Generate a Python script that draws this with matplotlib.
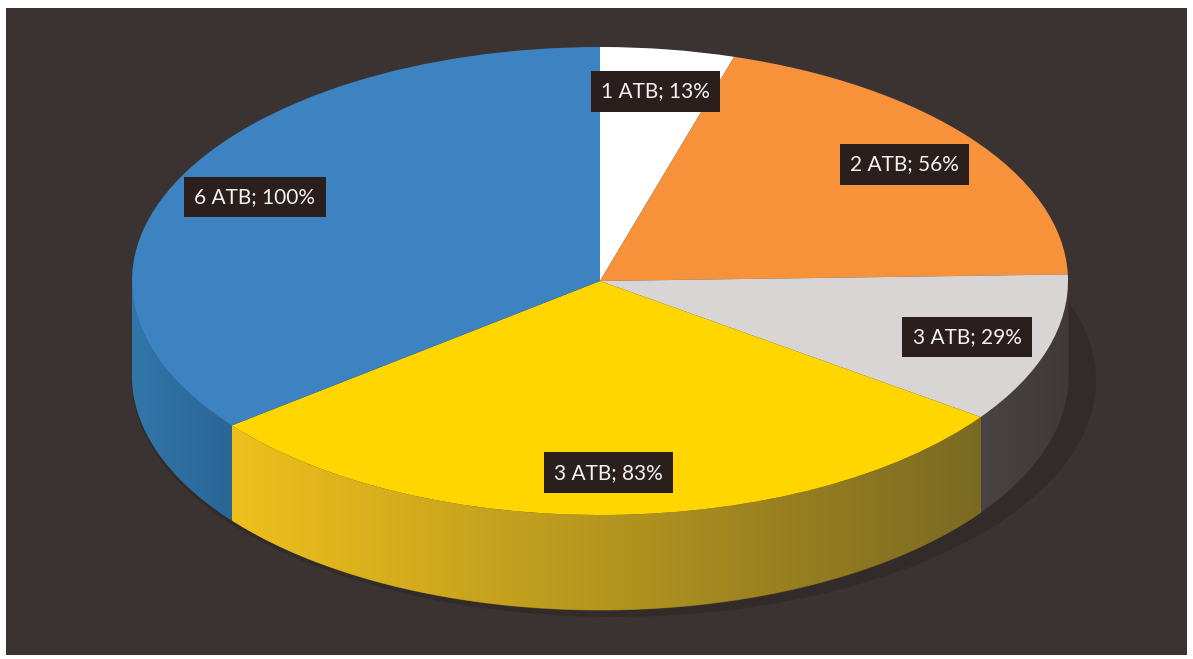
import numpy as np
import matplotlib.pyplot as plt
from matplotlib.colors import LinearSegmentedColormap
from matplotlib.patches import Ellipse

# --- data ---
categories = ['1 ATB', '2 ATB', '3 ATB', '3 ATB', '6 ATB']
values = [13, 56, 29, 83, 100]

# --- styles ---
top_colors = ['#ffffff', '#f7923a', '#d9d5d5', '#ffd600', '#3d82c1']
# side wall gradient (left end, right end) for each slice
wall_colors = [('#bdbdbd', '#bdbdbd'), ('#8a5226', '#8a5226'),
               ('#4a4343', '#403939'), ('#efc01c', '#7a6a22'),
               ('#3276aa', '#2a6696')]
bg_color = '#3b3332'

W, H = 1193, 659
fig = plt.figure(figsize=(W / 100, H / 100), dpi=100, facecolor='white')

# dark panel (pixels)
px0, px1, py0, py1 = 6, 1187, 8, 655
ax = fig.add_axes([px0 / W, 1 - py1 / H, (px1 - px0) / W, (py1 - py0) / H])

# pie geometry in pixels: centre, radii, thickness
cx, cy, rx, ry, depth = 600, 281, 468, 234, 95
d = depth / ry

label_text = [f'{c}; {v}%' for c, v in zip(categories, values)]
wedges, texts = ax.pie(values, colors=top_colors, startangle=90, counterclock=False,
                       labels=label_text, labeldistance=0.82,
                       wedgeprops=dict(linewidth=0, zorder=3),
                       textprops=dict(color='#f2f2f2', fontsize=15, family='Lato',
                                      zorder=5))
for t in texts:
    t.set_ha('center')
    t.set_va('center')
    t.set_bbox(dict(boxstyle='square,pad=0.5', facecolor='#2b1f1d', edgecolor='none'))

# soft shadow under the pie
ax.add_patch(Ellipse((0.03, -d - 0.02), 2.06, 2.02, facecolor='#2a2322', alpha=0.45,
                     linewidth=0, zorder=0.5))

# front side walls, gradient-filled
for w, wc in zip(wedges, wall_colors):
    for shift in (-360, 0, 360):
        a = max(w.theta1 + shift, -180)
        b = min(w.theta2 + shift, 0)
        if b <= a:
            continue
        tt = np.radians(np.linspace(a, b, 200))
        xs = np.cos(tt)
        poly = ax.fill_between(xs, np.sin(tt), np.sin(tt) - d, color=wc[1],
                               linewidth=0, zorder=1)
        cmap = LinearSegmentedColormap.from_list('wall', list(wc))
        grad = np.linspace(0, 1, 256).reshape(1, -1)
        ylo = np.sin(tt).min() - d
        yhi = np.sin(tt).max()
        im = ax.imshow(grad, cmap=cmap, aspect='auto', zorder=1.5,
                       extent=(xs.min(), xs.max(), ylo, yhi))
        im.set_clip_path(poly.get_paths()[0], ax.transData)

ax.set_aspect('auto')
ax.set_xlim((px0 - cx) / rx, (px1 - cx) / rx)
ax.set_ylim((cy - py1) / ry, (cy - py0) / ry)
ax.set_frame_on(True)
ax.set_facecolor(bg_color)
for s in ax.spines.values():
    s.set_visible(False)
ax.set_xticks([])
ax.set_yticks([])

fig.savefig('out.png', dpi=100, facecolor='white')
